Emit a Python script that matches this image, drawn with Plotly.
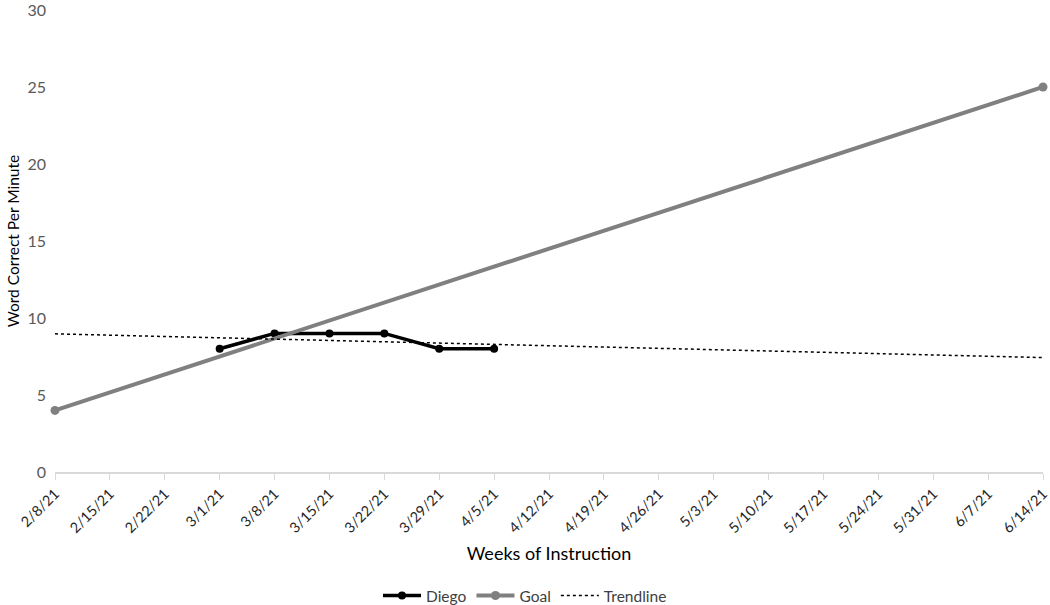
import plotly.graph_objects as go

weeks = ["2/8/21", "2/15/21", "2/22/21", "3/1/21", "3/8/21", "3/15/21", "3/22/21",
         "3/29/21", "4/5/21", "4/12/21", "4/19/21", "4/26/21", "5/3/21", "5/10/21",
         "5/17/21", "5/24/21", "5/31/21", "6/7/21", "6/14/21"]
diego_weeks = ["3/1/21", "3/8/21", "3/15/21", "3/22/21", "3/29/21", "4/5/21"]
diego_vals = [8, 9, 9, 9, 8, 8]
goal_weeks = ["2/8/21", "6/14/21"]
goal_vals = [4, 25]
trend_weeks = ["2/8/21", "6/14/21"]
trend_vals = [8.97, 7.43]
y_ticks = [0, 5, 10, 15, 20, 25, 30]

FONT = "Lato, 'Open Sans', sans-serif"

fig = go.Figure()
fig.add_trace(go.Scatter(x=diego_weeks, y=diego_vals, name="Diego", mode="lines+markers",
                         line=dict(color="black", width=3.5),
                         marker=dict(color="black", size=8), cliponaxis=False))
fig.add_trace(go.Scatter(x=goal_weeks, y=goal_vals, name="Goal", mode="lines+markers",
                         line=dict(color="#808080", width=4),
                         marker=dict(color="#808080", size=9), cliponaxis=False))
fig.add_trace(go.Scatter(x=trend_weeks, y=trend_vals, name="Trendline", mode="lines",
                         line=dict(color="black", width=1.5, dash="dot"), cliponaxis=False))

fig.update_layout(
    width=1050, height=605,
    margin=dict(l=55, r=7, t=10, b=133, autoexpand=False),
    paper_bgcolor="white", plot_bgcolor="white",
    font=dict(family=FONT, color="#595959", size=14),
    legend=dict(orientation="h", x=0.5, xanchor="center", xref="container",
                y=0.015, yanchor="middle", yref="container",
                itemwidth=38,
                font=dict(size=15.5, color="#404040"), traceorder="normal"),
    xaxis=dict(type="category", categoryorder="array", categoryarray=weeks,
               range=[0, len(weeks) - 1], showgrid=False, automargin=False,
               showline=True, linecolor="#d9d9d9", linewidth=1.5,
               ticks="outside", tickcolor="#d9d9d9", ticklen=6,
               tickangle=-45, tickfont=dict(size=14.5, color="#262626"),
               ticklabeloverflow="allow",
               title=dict(text="Weeks of Instruction", font=dict(size=18, color="black"), standoff=12)),
    yaxis=dict(range=[0, 30], tickvals=y_ticks, showgrid=False, zeroline=False,
               showline=False, automargin=False, ticklabeloverflow="allow",
               tickfont=dict(size=16, color="#595959"), ticklabelstandoff=8,
               title=dict(text="Word Correct Per Minute", font=dict(size=15.5, color="black"), standoff=4)),
)

fig.write_html("out.html", config={"displayModeBar": False},
               post_script="document.body.style.margin='0';")
